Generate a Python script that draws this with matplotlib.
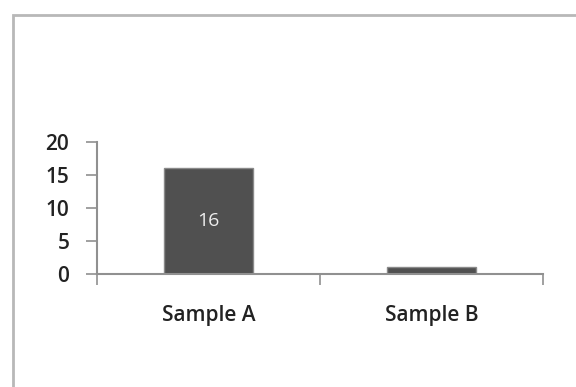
import matplotlib
matplotlib.use("Agg")
from matplotlib import pyplot as plt
from matplotlib.patches import Rectangle

categories = ["Sample A", "Sample B"]
values = [16, 1]
bar_labels = ["16", ""]
yticks = [0, 5, 10, 15, 20]

plt.rcParams['font.family'] = ['Open Sans', 'DejaVu Sans']

fig = plt.figure(figsize=(5.76, 3.87), dpi=100)
fig.patch.set_facecolor("white")

# outer frame of the chart area
fig.patches.append(Rectangle((13/576, -0.1), 1.2, 1 - 15/387 + 0.1,
                             transform=fig.transFigure, fill=False,
                             edgecolor="#b8b8b8", linewidth=2))

ax = fig.add_axes([97/576, 1 - 274/387, (543 - 97)/576, (274 - 142)/387])
x = range(len(categories))
bars = ax.bar(x, values, width=0.4, color="#505050", edgecolor="#8a8a8a", linewidth=1)

for b, lab in zip(bars, bar_labels):
    if lab:
        ax.text(b.get_x() + b.get_width()/2, b.get_height()/2, lab,
                ha="center", va="center", color="#eeeeee", fontsize=14)

ax.set_xlim(-0.5, 1.5)
ax.set_ylim(0, 20)
ax.set_yticks(yticks)
ax.set_xticks(list(x))
ax.set_xticklabels(categories, fontweight="semibold", color="#222222")
ax.set_xticks([-0.5, 0.5, 1.5], minor=True)
ax.tick_params(axis="x", which="major", length=0, pad=22, labelsize=15)
ax.tick_params(axis="x", which="minor", length=8, color="#909090", width=1.2)
ax.tick_params(axis="y", length=8, color="#909090", width=1.2, labelsize=15,
               pad=12, labelcolor="#222222")
for t in ax.get_yticklabels():
    t.set_fontweight("semibold")

for s in ["top", "right"]:
    ax.spines[s].set_visible(False)
for s in ["left", "bottom"]:
    ax.spines[s].set_color("#909090")
    ax.spines[s].set_linewidth(1.5)

fig.savefig("out.png", dpi=100)
